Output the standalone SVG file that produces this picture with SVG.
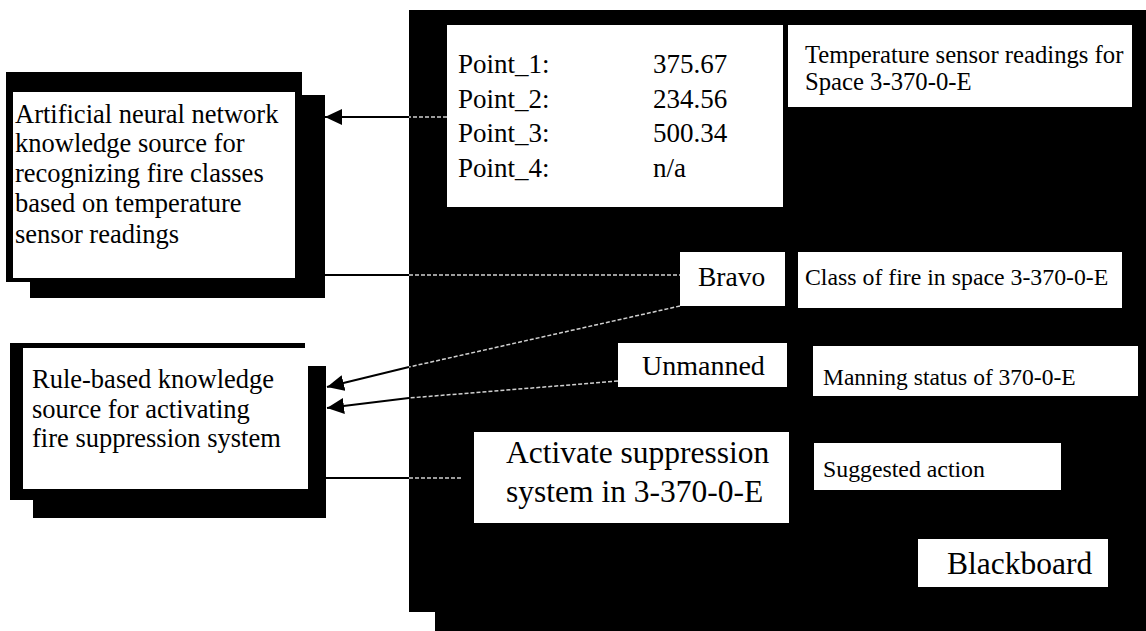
<svg xmlns="http://www.w3.org/2000/svg" width="1146" height="631" viewBox="0 0 1146 631">
<style>
  text { font-family: "Liberation Serif", "Times New Roman", serif; fill: #000; }
  .blk { fill: #000; }
  .wht { fill: #fff; }
  .solid { stroke: #000; stroke-width: 2; fill: none; }
  .dot { stroke: #d0d0d0; stroke-width: 1.5; stroke-dasharray: 4 2; fill: none; }
</style>
<defs>
  <marker id="arr" markerUnits="userSpaceOnUse" markerWidth="18" markerHeight="16" refX="17" refY="8" orient="auto">
    <path d="M0,0 L17,8 L0,16 Z" fill="#000"/>
  </marker>
</defs>
<rect width="1146" height="631" fill="#fff"/>

<g id="blackboard">
  <rect class="blk" x="409" y="10" width="737" height="602"/>
  <rect class="blk" x="435" y="30" width="711" height="601"/>
</g>

<g id="node-ann">
  <rect class="blk" x="6" y="72" width="296" height="210"/>
  <rect class="blk" x="30" y="95" width="295" height="203"/>
  <rect class="wht" x="13" y="92" width="282" height="186"/>
  <text font-size="26.5">
    <tspan x="15" y="123">Artificial neural network</tspan>
    <tspan x="15" y="152">knowledge source for</tspan>
    <tspan x="15" y="182">recognizing fire classes</tspan>
    <tspan x="15" y="212">based on temperature</tspan>
    <tspan x="15" y="243">sensor readings</tspan>
  </text>
</g>

<g id="node-rule">
  <rect class="blk" x="10" y="343" width="295" height="157"/>
  <rect class="blk" x="33" y="366" width="293" height="152"/>
  <rect class="wht" x="23" y="348" width="285" height="141"/>
  <text font-size="26.5">
    <tspan x="32" y="388">Rule-based knowledge</tspan>
    <tspan x="32" y="418">source for activating</tspan>
    <tspan x="32" y="447">fire suppression system</tspan>
  </text>
</g>

<g id="points">
  <rect class="wht" x="447" y="25" width="336" height="182"/>
  <text font-size="27">
    <tspan x="458" y="73">Point_1:</tspan>
    <tspan x="458" y="108">Point_2:</tspan>
    <tspan x="458" y="142">Point_3:</tspan>
    <tspan x="458" y="177">Point_4:</tspan>
  </text>
  <text font-size="27">
    <tspan x="653" y="73">375.67</tspan>
    <tspan x="653" y="108">234.56</tspan>
    <tspan x="653" y="142">500.34</tspan>
    <tspan x="653" y="177">n/a</tspan>
  </text>
</g>

<g id="temp-label">
  <rect class="wht" x="788" y="25" width="344" height="82"/>
  <text font-size="24.7">
    <tspan x="805" y="63">Temperature sensor readings for</tspan>
    <tspan x="805" y="90">Space 3-370-0-E</tspan>
  </text>
</g>

<g id="bravo">
  <rect class="wht" x="680" y="252" width="105" height="54"/>
  <text x="698" y="286" font-size="27.5">Bravo</text>
</g>

<g id="class-label">
  <rect class="wht" x="798" y="252" width="324" height="56"/>
  <text x="805" y="285" font-size="23.8">Class of fire in space 3-370-0-E</text>
</g>

<g id="unmanned">
  <rect class="wht" x="618" y="343" width="169" height="44"/>
  <text x="642" y="375" font-size="28">Unmanned</text>
</g>

<g id="manning-label">
  <rect class="wht" x="813" y="346" width="325" height="50"/>
  <text x="823" y="385" font-size="23.5">Manning status of 370-0-E</text>
</g>

<g id="action">
  <rect class="wht" x="474" y="432" width="315" height="91"/>
  <text font-size="31.5">
    <tspan x="506" y="463">Activate suppression</tspan>
    <tspan x="506" y="502">system in 3-370-0-E</tspan>
  </text>
</g>

<g id="action-label">
  <rect class="wht" x="814" y="443" width="247" height="47"/>
  <text x="823" y="477" font-size="23.8">Suggested action</text>
</g>

<g id="blackboard-label">
  <rect class="wht" x="918" y="539" width="190" height="48"/>
  <text x="947" y="574" font-size="31.5">Blackboard</text>
</g>

<g id="connectors">
  <line class="dot" x1="447" y1="117" x2="409" y2="117"/>
  <line class="solid" x1="409" y1="117" x2="325" y2="117" marker-end="url(#arr)"/>

  <line class="solid" x1="325" y1="275" x2="409" y2="275"/>
  <line class="dot" x1="409" y1="275" x2="680" y2="275"/>

  <line class="dot" x1="680" y1="306" x2="409" y2="367"/>
  <line class="solid" x1="409" y1="367" x2="327" y2="387" marker-end="url(#arr)"/>

  <line class="dot" x1="618" y1="381" x2="409" y2="398"/>
  <line class="solid" x1="409" y1="398" x2="327" y2="408" marker-end="url(#arr)"/>

  <line class="solid" x1="326" y1="478" x2="409" y2="478"/>
  <line class="dot" x1="409" y1="478" x2="463" y2="478"/>
</g>
</svg>
